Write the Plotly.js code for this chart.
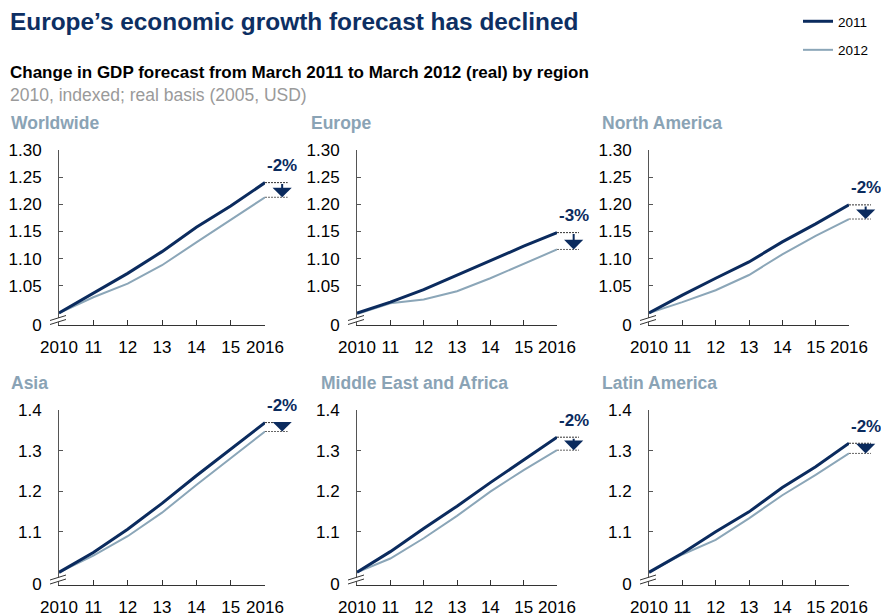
<!DOCTYPE html>
<html><head><meta charset="utf-8">
<script src="https://cdn.plot.ly/plotly-3.0.1.min.js"></script>
<style>html,body{margin:0;padding:0;background:#fff}#chart{width:881px;height:615px}</style>
</head><body><div id="chart"></div>
<script>
const years = [2010, 2011, 2012, 2013, 2014, 2015, 2016];
const yearLabels = ["2010", "11", "12", "13", "14", "15", "2016"];
const regions = ["Worldwide", "Europe", "North America", "Asia", "Middle East and Africa", "Latin America"];
const worldwide2011 = [1.000, 1.036, 1.073, 1.113, 1.158, 1.197, 1.240];
const worldwide2012 = [1.000, 1.029, 1.054, 1.088, 1.130, 1.172, 1.213];
const europe2011 = [1.000, 1.020, 1.043, 1.070, 1.096, 1.123, 1.148];
const europe2012 = [0.998, 1.018, 1.025, 1.040, 1.064, 1.091, 1.117];
const northAmerica2011 = [1.000, 1.033, 1.064, 1.094, 1.131, 1.164, 1.199];
const northAmerica2012 = [1.000, 1.020, 1.042, 1.070, 1.108, 1.142, 1.173];
const asia2011 = [1.000, 1.049, 1.106, 1.170, 1.238, 1.304, 1.369];
const asia2012 = [1.000, 1.041, 1.089, 1.147, 1.215, 1.281, 1.347];
const mea2011 = [1.000, 1.051, 1.108, 1.163, 1.221, 1.278, 1.333];
const mea2012 = [1.000, 1.034, 1.084, 1.139, 1.199, 1.252, 1.301];
const latam2011 = [1.000, 1.047, 1.100, 1.149, 1.209, 1.260, 1.318];
const latam2012 = [1.000, 1.044, 1.080, 1.133, 1.190, 1.240, 1.293];
const changeLabels = ["-2%", "-3%", "-2%", "-2%", "-2%", "-2%"];
const topTickVals = [0.978, 1.05, 1.10, 1.15, 1.20, 1.25, 1.30];
const topTickText = ["0", "1.05", "1.10", "1.15", "1.20", "1.25", "1.30"];
const bottomTickVals = [0.970, 1.1, 1.2, 1.3, 1.4];
const bottomTickText = ["0", "1.1", "1.2", "1.3", "1.4"];

const series2011 = [worldwide2011, europe2011, northAmerica2011, asia2011, mea2011, latam2011];
const series2012 = [worldwide2012, europe2012, northAmerica2012, asia2012, mea2012, latam2012];

const NAVY = "#0b2b5e";
const LIGHT = "#8ba6b8";
const FONT = "Liberation Sans, Arial, sans-serif";
const W = 881, H = 615;

const colDomains = [[59 / W, 265 / W], [357 / W, 557 / W], [649 / W, 849 / W]];
const rowDomains = [[1 - 325 / H, 1 - 150 / H], [1 - 584.5 / H, 1 - 410 / H]];
const titlePos = [[9, 123], [309, 123], [600, 123], [9, 383], [319, 383], [600, 383]];

const data = [];
const layout = {
  width: W, height: H,
  margin: {l: 0, r: 0, t: 0, b: 0},
  paper_bgcolor: "#fff", plot_bgcolor: "rgba(0,0,0,0)",
  font: {family: FONT, color: "#000"},
  showlegend: true,
  legend: {x: 798 / W, xanchor: "left", y: 1 - 6 / H, yanchor: "top",
           font: {size: 13.5, family: FONT, color: "#000"}, tracegroupgap: 8,
           bgcolor: "rgba(0,0,0,0)"},
  shapes: [], annotations: []
};

for (let i = 0; i < 6; i++) {
  const n = i === 0 ? "" : String(i + 1);
  const top = i < 3;
  const col = i % 3;
  data.push({x: years, y: series2012[i], type: "scatter", mode: "lines",
    xaxis: "x" + n, yaxis: "y" + n, name: "2012", legendgroup: "2012", legendrank: 2,
    showlegend: i === 0, line: {color: LIGHT, width: 2}, hoverinfo: "skip"});
  data.push({x: years, y: series2011[i], type: "scatter", mode: "lines",
    xaxis: "x" + n, yaxis: "y" + n, name: "2011", legendgroup: "2011", legendrank: 1,
    showlegend: i === 0, line: {color: NAVY, width: 3}, hoverinfo: "skip"});

  layout["xaxis" + n] = {
    domain: colDomains[col], anchor: "y" + n, range: [2010, 2016],
    tickmode: "array", tickvals: years, ticktext: yearLabels,
    ticks: "inside", ticklen: 5, tickcolor: "#333", tickwidth: 1,
    showline: true, linecolor: "#333", linewidth: 1,
    showgrid: false, zeroline: false, ticklabelstandoff: 7,
    tickfont: {size: 17, family: FONT, color: "#000"}, fixedrange: true
  };
  layout["yaxis" + n] = {
    domain: rowDomains[top ? 0 : 1], anchor: "x" + n,
    range: top ? [topTickVals[0], 1.30] : [bottomTickVals[0], 1.40],
    tickmode: "array", tickvals: top ? topTickVals : bottomTickVals,
    ticktext: top ? topTickText : bottomTickText,
    ticks: "inside", ticklen: 4, tickcolor: "#555", tickwidth: 1,
    showline: true, linecolor: "#555", linewidth: 1,
    showgrid: false, zeroline: false, ticklabelstandoff: 13,
    tickfont: {size: 17, family: FONT, color: "#000"}, fixedrange: true
  };

  const d = series2011[i][6], l = series2012[i][6];
  // dashed reference lines at the 2016 values
  [d, l].forEach((v, k) => layout.shapes.push({
    type: "line", xref: "x" + n + " domain", yref: "y" + n,
    x0: 1, x1: 1.11, y0: v, y1: v,
    line: {color: k === 0 ? "#333" : "#666", width: 1, dash: "2px,1px"}
  }));
  // axis break marks
  layout.shapes.push({type: "line", xref: "x" + n + " domain", yref: "y" + n + " domain",
    xsizemode: "pixel", xanchor: 0, ysizemode: "pixel", yanchor: 0,
    x0: -9, x1: 7, y0: 2.5, y1: 7.5, line: {color: "#fff", width: 3.5}});
  layout.shapes.push({type: "line", xref: "x" + n + " domain", yref: "y" + n + " domain",
    xsizemode: "pixel", xanchor: 0, ysizemode: "pixel", yanchor: 0,
    x0: -9, x1: 7, y0: 0.5, y1: 5.5, line: {color: "#333", width: 1}});
  layout.shapes.push({type: "line", xref: "x" + n + " domain", yref: "y" + n + " domain",
    xsizemode: "pixel", xanchor: 0, ysizemode: "pixel", yanchor: 0,
    x0: -9, x1: 7, y0: 4.5, y1: 9.5, line: {color: "#333", width: 1}});

  // arrow from 2011 to 2012 forecast
  layout.annotations.push({xref: "x" + n + " domain", yref: "y" + n, x: 1 + 0.5 / 6, y: l,
    axref: "pixel", ax: 0, ayref: "y" + n, ay: d, text: "", showarrow: true,
    arrowhead: 1, arrowsize: 1.6, arrowwidth: 2, arrowcolor: NAVY});
  layout.annotations.push({xref: "x" + n + " domain", yref: "y" + n, x: 1 + 0.5 / 6, y: d,
    yshift: 17, text: "<b>" + changeLabels[i] + "</b>", showarrow: false,
    xanchor: "center", yanchor: "middle",
    font: {size: 17, family: FONT, color: NAVY}});
  // panel title
  layout.annotations.push({xref: "paper", yref: "paper", x: titlePos[i][0] / W, y: 1 - titlePos[i][1] / H,
    xanchor: "left", yanchor: "middle", showarrow: false,
    text: "<b>" + regions[i] + "</b>", font: {size: 17.5, family: FONT, color: "#8aa3b5"}});
}

layout.annotations.push({xref: "paper", yref: "paper", x: 8 / W, y: 1 - 22 / H,
  xanchor: "left", yanchor: "middle", showarrow: false,
  text: "<b>Europe’s economic growth forecast has declined</b>",
  font: {size: 24.4, family: FONT, color: "#0d2f63"}});
layout.annotations.push({xref: "paper", yref: "paper", x: 8 / W, y: 1 - 72 / H,
  xanchor: "left", yanchor: "middle", showarrow: false,
  text: "<b>Change in GDP forecast from March 2011 to March 2012 (real) by region</b>",
  font: {size: 17, family: FONT, color: "#000"}});
layout.annotations.push({xref: "paper", yref: "paper", x: 8 / W, y: 1 - 95 / H,
  xanchor: "left", yanchor: "middle", showarrow: false,
  text: "2010, indexed; real basis (2005, USD)",
  font: {size: 17.5, family: FONT, color: "#9a9a9a"}});

Plotly.newPlot("chart", data, layout, {displayModeBar: false, staticPlot: true});
</script>
</body></html>
